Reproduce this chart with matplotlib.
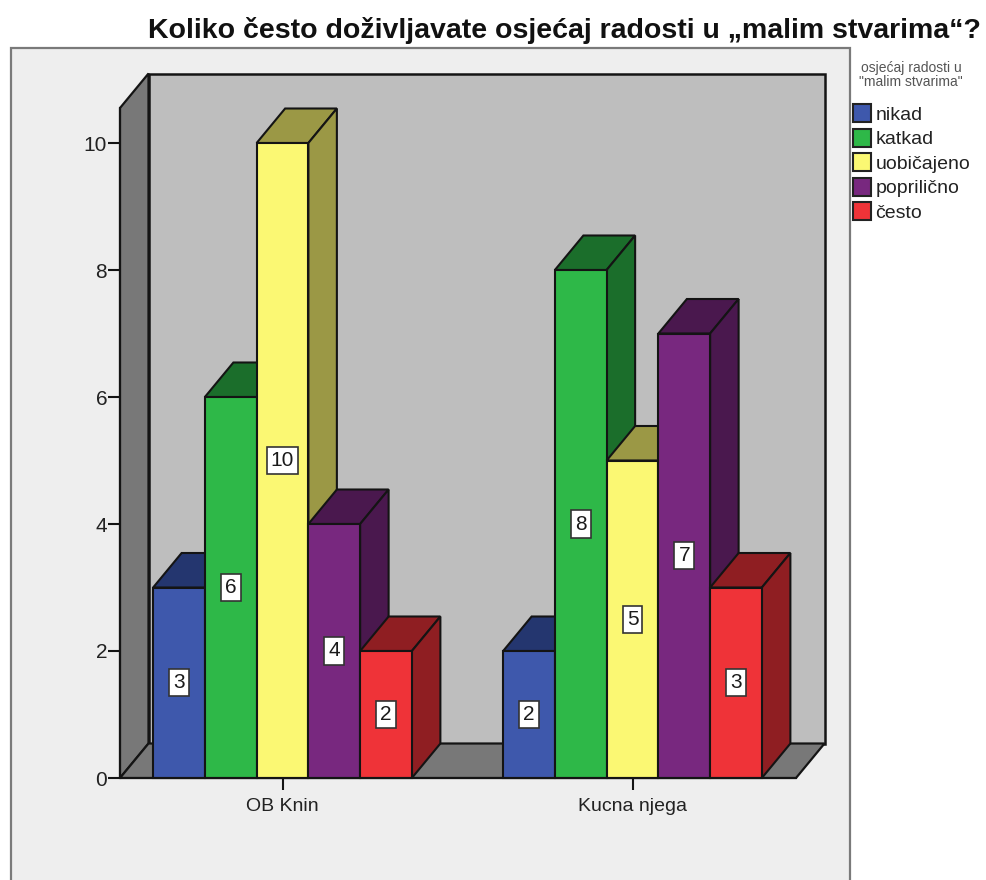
import numpy as np
import matplotlib
matplotlib.use("Agg")
import matplotlib.pyplot as plt
from matplotlib.patches import Rectangle, Patch

plt.rcParams['font.family'] = ['Liberation Sans', 'DejaVu Sans']

W, H = 987.0, 880.0

categories = ["OB Knin", "Kucna njega"]
levels = ["nikad", "katkad", "uobičajeno", "poprilično", "često"]
ob_knin = [3, 6, 10, 4, 2]
kucna_njega = [2, 8, 5, 7, 3]
yticks = [0, 2, 4, 6, 8, 10]

front_cols = ["#3e58ac", "#2eb848", "#fbf873", "#78287f", "#ef3338"]
top_cols = ["#24366f", "#1b6e2b", "#9b9845", "#4a184e", "#8f1e22"]
side_cols = ["#24366f", "#1b6e2b", "#9b9845", "#4a184e", "#8f1e22"]
edge = "#141414"

fig = plt.figure(figsize=(9.87, 8.80), dpi=100, facecolor="white")

# grey chart panel, runs off the bottom of the image
fig.add_artist(Rectangle((11/W, -0.05), (850-11)/W, 1.05-48/H, transform=fig.transFigure,
                         facecolor="#eeeeee", edgecolor="#7a7a7a", linewidth=1.6, zorder=-1))

# axes = front plane of the 3d box
ax = fig.add_axes([120/W, 1-778/H, (796-120)/W, (778-108)/H])
ax.patch.set_visible(False)
px_x = 350.0   # pixels per group
px_y = 63.5    # pixels per count
ax.set_xlim((120-282.5)/px_x, (796-282.5)/px_x)
ax.set_ylim(0, (778-108)/px_y)
x0, x1 = ax.get_xlim()
y1 = ax.get_ylim()[1]
dx = 28.5/px_x
dy = 34.5/px_y
bw = 51.75/px_x

# back wall, side wall, floor
ax.fill([x0+dx, x1+dx, x1+dx, x0+dx], [dy, dy, y1+dy, y1+dy], facecolor="#bebebe",
        edgecolor=edge, lw=1.8, clip_on=False, zorder=1)
ax.fill([x0, x0+dx, x0+dx, x0], [0, dy, y1+dy, y1], facecolor="#787878",
        edgecolor=edge, lw=1.6, clip_on=False, zorder=1)
ax.fill([x0, x1, x1+dx, x0+dx], [0, 0, dy, dy], facecolor="#787878",
        edgecolor=edge, lw=1.6, clip_on=False, zorder=1)

z = 2
for g, values in enumerate([ob_knin, kucna_njega]):
    for i, v in enumerate(values):
        xl = g + (i-2)*bw - bw/2
        xr = xl + bw
        ax.fill([xl, xr, xr+dx, xl+dx], [v, v, v+dy, v+dy], facecolor=top_cols[i],
                edgecolor=edge, lw=1.5, clip_on=False, zorder=z)
        ax.fill([xr, xr+dx, xr+dx, xr], [0, dy, v+dy, v], facecolor=side_cols[i],
                edgecolor=edge, lw=1.5, clip_on=False, zorder=z)
        ax.bar(xl+bw/2, v, width=bw, color=front_cols[i], edgecolor=edge, lw=1.5,
               clip_on=False, zorder=z)
        z += 1
        ax.text(xl+bw/2, v/2, str(v), ha="center", va="center", fontsize=15, color="#1a1a1a",
                zorder=50, bbox=dict(boxstyle="square,pad=0.2", facecolor="white",
                                     edgecolor="#333333", lw=1.2))

for s in ["top", "right"]:
    ax.spines[s].set_visible(False)
ax.spines["left"].set_linewidth(1.5)
ax.spines["bottom"].set_linewidth(1.5)
ax.spines["left"].set_color(edge)
ax.spines["bottom"].set_color(edge)
ax.spines["left"].set_zorder(40)
ax.spines["bottom"].set_zorder(40)
ax.set_xticks([0, 1])
ax.set_xticklabels(categories)
ax.set_yticks(yticks)
ax.tick_params(axis="y", length=8.7, width=1.5, labelsize=15, pad=0.5, color=edge, labelcolor="#222222")
ax.tick_params(axis="x", length=8.7, width=1.5, labelsize=14, pad=6, color=edge, labelcolor="#222222")

fig.text(564/W, 1-30/H, "Koliko često doživljavate osjećaj radosti u „malim stvarima“?",
         ha="center", va="center", fontsize=20.5, fontweight="bold", color="#111111")

# legend title sits apart from the rows
fig.text(911/W, 1-75/H, "osjećaj radosti u\n\"malim stvarima\"", ha="center", va="center",
         fontsize=10, color="#555555", linespacing=1.0)

handles = [Patch(facecolor=c, edgecolor="#222222", lw=1.5) for c in front_cols]
leg = fig.legend(handles, levels, loc="upper left", bbox_to_anchor=(853/W, 1-104/H),
                 fontsize=14, frameon=False, handlelength=0.95, handleheight=1.05,
                 handletextpad=0.2, labelspacing=0.25, borderpad=0, borderaxespad=0)
for t in leg.get_texts():
    t.set_color("#222222")

fig.savefig("out.png", dpi=100)
